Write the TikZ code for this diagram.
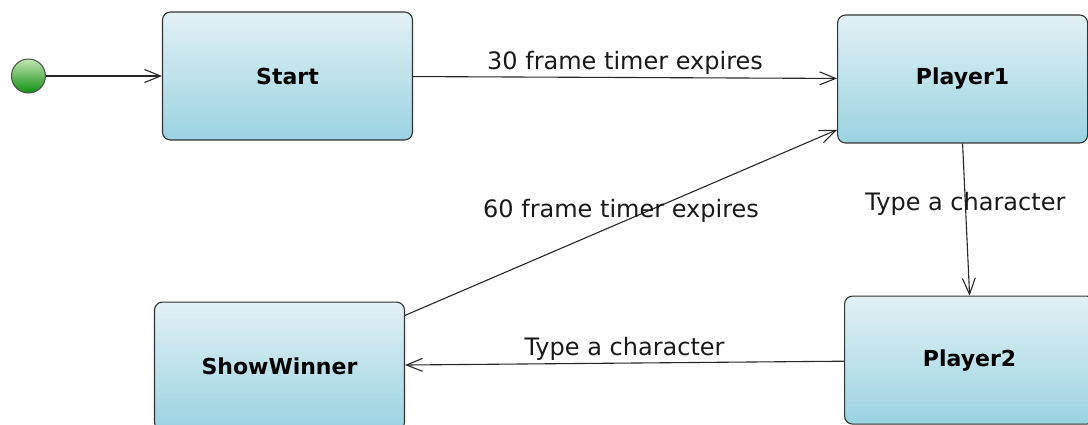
\documentclass[tikz,border=0pt]{standalone}
\usepackage{fontspec}
\setmainfont{DejaVu Sans}
\usepackage{tikz}
\usetikzlibrary{arrows.meta, positioning}

\definecolor{statetop}{HTML}{E2F1F5}
\definecolor{statebottom}{HTML}{9AD3E1}
\definecolor{inittop}{HTML}{C4E6B4}
\definecolor{initbottom}{HTML}{10900F}

\begin{document}
\begin{tikzpicture}[
  x=1pt, y=-1pt,
  state/.style={draw=black!80, rectangle, rounded corners=8pt, line width=1.1pt, minimum width=250pt, minimum height=128pt, top color=statetop, bottom color=statebottom, align=center, font=\fontsize{22}{26}\selectfont\bfseries},
  initial/.style={draw=black!70, circle, line width=1pt, minimum size=34pt, inner sep=0pt, top color=inittop, bottom color=initbottom},
  arrow/.style={-{Straight Barb[length=16pt, width=13pt]}, line width=1.1pt, black!85},
  lbl/.style={font=\fontsize{24}{28}\selectfont, text=black!90}
]
\useasboundingbox (0,0) rectangle (1088,425);

\node[state] (start) at (287.5,76) {Start};
\node[initial, left=116pt of start] (init) {};

\node[state, right=424pt of start, yshift=-3pt] (player1) {Player1};
\node[state, below=152pt of player1, xshift=7pt] (player2) {Player2};
\node[state, left=439pt of player2, yshift=-6pt] (showwinner) {ShowWinner};

\draw[arrow] (init) -- (start);
\draw[arrow] (start) -- node[lbl, above, inner sep=2pt] {30 frame timer expires} (player1);
\draw[arrow] (showwinner.22.8) -- node[lbl, above, inner sep=0pt] {60 frame timer expires} (player1.202.6);
\draw[arrow] (player1.south) -- node[lbl, pos=0.4] {Type a character} (player2.north);
\draw[arrow] (player2) -- node[lbl, above, inner sep=2pt] {Type a character} (showwinner);

\end{tikzpicture}
\end{document}
